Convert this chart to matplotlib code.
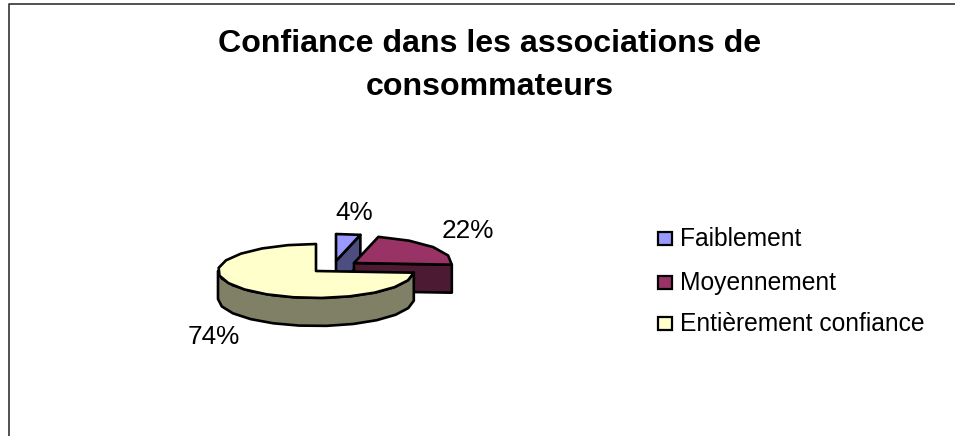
import numpy as np
import matplotlib
matplotlib.use('Agg')
import matplotlib.pyplot as plt
from matplotlib.patches import Polygon, Rectangle

categories = ['Faiblement', 'Moyennement', 'Entièrement confiance']
values = [4, 22, 74]
labels = ['4%', '22%', '74%']
top_colors = ['#9999ff', '#993366', '#ffffcc']
side_colors = ['#4d4d80', '#4d1a33', '#808066']

# pixel coords of the picture, y going down
rx, ry, depth = 98, 27, 28
centers = [(336, 261), (354, 263), (316, 271)]
label_pos = [(354, 213), (468, 231), (214, 337)]
legend_y = [238, 282, 323]

plt.rcParams['font.family'] = ['Liberation Sans', 'DejaVu Sans']

fig = plt.figure(figsize=(9.55, 4.36), dpi=100)
ax = fig.add_axes([0, 0, 1, 1])
ax.set_xlim(0, 955)
ax.set_ylim(436, 0)
ax.axis('off')


def arc(c, a0, a1, dy=0, step=16):
    # projected circle, coarse steps like the low-res original
    n = max(int(abs(a1 - a0) / step), 1) + 1
    t = np.radians(np.linspace(a0, a1, n))
    return np.column_stack([c[0] + rx * np.sin(t), c[1] - ry * np.cos(t) + dy])


def add(pts, color, z):
    ax.add_patch(Polygon(pts, closed=True, facecolor=color, edgecolor='black',
                         linewidth=1.9, joinstyle='round', zorder=z))


# frame: top and left only are visible in the picture
ax.plot([8.5, 8.5, 955], [436, 4.5, 4.5], color='#333333', lw=1.2)

edges = np.cumsum([0] + values) * 3.6
for i in range(3):
    a0, a1 = edges[i], edges[i + 1]
    c = centers[i]
    z = 2 + i * 2
    if i == 0:
        add([c, (c[0], c[1] + depth), arc(c, a1, a1)[0] + (0, depth), arc(c, a1, a1)[0]], side_colors[i], z)
    if i == 1:
        end = arc(c, a1, a1)[0]
        add([c, end, end + (0, depth), (c[0], c[1] + depth)], side_colors[i], z)
    if i == 2:
        low = arc(c, a0, 270)
        add(np.vstack([low, (low + (0, depth))[::-1]]), side_colors[i], z)
    add(np.vstack([[c], arc(c, a0, a1)]), top_colors[i], z + 1)
    ax.text(label_pos[i][0], label_pos[i][1], labels[i], fontsize=18.8, ha='center', va='center', zorder=10)

ax.text(490, 65.5, 'Confiance dans les associations de\nconsommateurs', fontsize=23.1,
        fontweight='bold', ha='center', va='center', linespacing=1.53)

for name, col, y in zip(categories, top_colors, legend_y):
    ax.add_patch(Rectangle((658, y - 6.5), 14, 13, facecolor=col, edgecolor='black', linewidth=1.6))
    ax.text(680, y + 1, name, fontsize=17.7, ha='left', va='center')

fig.savefig('out.png', dpi=100)
